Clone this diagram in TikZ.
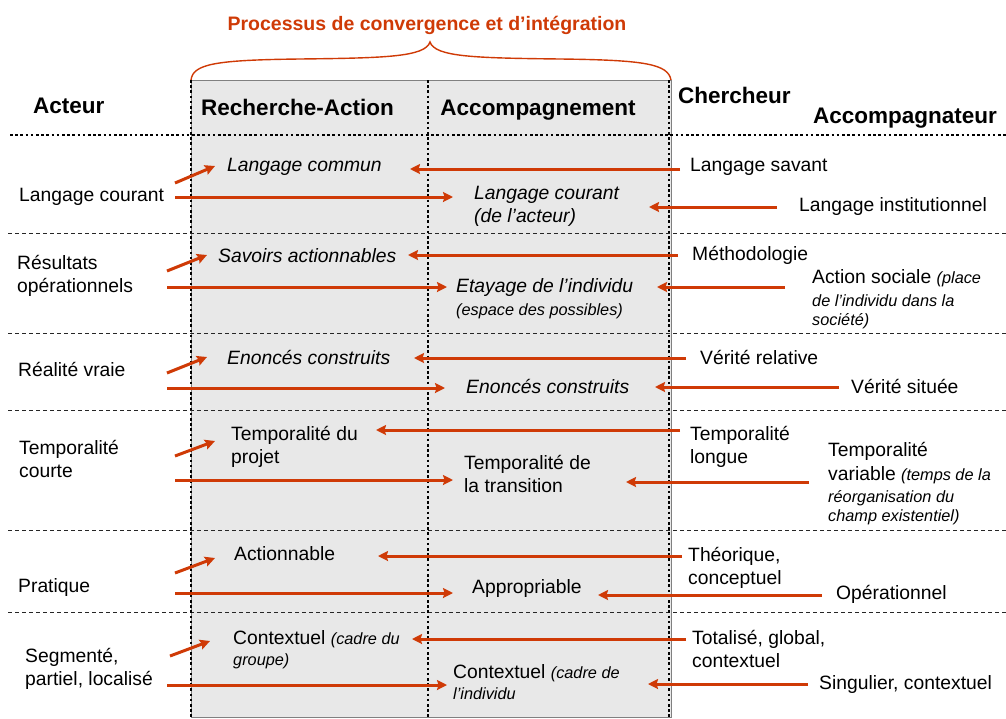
\documentclass[tikz,border=0pt]{standalone}
\usepackage{fontspec}
\setmainfont{Liberation Sans}
\usetikzlibrary{arrows.meta}
\definecolor{acc}{RGB}{207,58,6}
\definecolor{boxgray}{RGB}{232,232,232}
\newcommand\smit[1]{{\fontsize{16.3}{19.5}\selectfont\itshape #1}}
\begin{document}
\begin{tikzpicture}[x=1pt,y=-1pt,
  txt/.style={anchor=base west, inner sep=0pt, align=left, font=\fontsize{19.3}{23.5}\selectfont},
  itx/.style={anchor=base west, inner sep=0pt, align=left, font=\fontsize{19.3}{23.5}\selectfont\itshape},
  hdr/.style={anchor=base west, inner sep=0pt, font=\fontsize{22.5}{26}\selectfont\bfseries},
  arr/.style={draw=acc, line width=3pt, -{Stealth[length=10pt,width=10pt,inset=1.5pt]}},
  dots/.style={line width=2.6pt, dash pattern=on 2.6pt off 2.6pt},
  sep/.style={line width=0.9pt, dash pattern=on 4pt off 3pt, draw=black!85},
]
\useasboundingbox (0,0) rectangle (1006,718);
% box
\fill[boxgray] (191,80) rectangle (671,718);
\draw[gray, line width=0.8pt] (191,80) -- (671,80) -- (671,717) -- (191,717) -- cycle;
% brace
\draw[acc, line width=1.4pt] (191,80) .. controls (193,64) and (215,60) .. (300,59)
  .. controls (385,58) and (425,57) .. (430,42)
  .. controls (435,57) and (475,58) .. (560,59)
  .. controls (645,60) and (668,64) .. (671,80);
\node[anchor=base, inner sep=0pt, font=\fontsize{19.5}{22}\selectfont\bfseries, text=acc] (title) at (427,30) {Processus de convergence et d’intégration};
% separators
\foreach \yy in {233,333,410,530,612} \draw[sep] (8,\yy) -- (1006,\yy);
\draw[dots] (10,135) -- (1006,135);
\draw[dots] (191,80) -- (191,718);
\draw[dots] (428,80) -- (428,718);
\draw[dots] (669,80) -- (669,718);
% headers
\node[hdr] (acteur) at (33,113) {Acteur};
\node[hdr, anchor=base] (ra) at (297.5,115) {Recherche-Action};
\node[hdr, anchor=base] (acc) at (538,115) {Accompagnement};
\node[hdr] (cherch) at (678,103) {Chercheur};
\node[hdr] (accomp) at (813,123) {Accompagnateur};
% left column
\node[txt] (lc) at (19,201.5) {Langage courant};
\node[txt] (ro) at (17,292.5) {Résultats\\opérationnels};
\node[txt] (rv) at (18,376.5) {Réalité vraie};
\node[txt] (tc) at (19,477.5) {Temporalité\\courte};
\node[txt] (pr) at (18,592.5) {Pratique};
\node[txt] (sp) at (25,685.5) {Segmenté,\\partiel, localisé};
% middle column 1
\node[itx] (lcm) at (227,171.5) {Langage commun};
\node[itx] (sa) at (218,262.5) {Savoirs actionnables};
\node[itx] (ec1) at (227,364.5) {Enoncés construits};
\node[txt] (tp) at (231,463.5) {Temporalité du\\projet};
\node[txt] (ac) at (234,560.5) {Actionnable};
\node[txt] (cg) at (233,665.5) {Contextuel \smit{(cadre du}\\[-2.5pt]\smit{groupe)}};
% middle column 2
\node[itx] (lca) at (474,222.5) {Langage courant\\(de l’acteur)};
\node[itx] (ei) at (456,315.5) {Etayage de l’individu\\\smit{(espace des possibles)}};
\node[itx] (ec2) at (466,393.5) {Enoncés construits};
\node[txt] (tt) at (464,492.5) {Temporalité de\\la transition};
\node[txt] (ap) at (472,593.5) {Appropriable};
\node[txt] (ci) at (453,699.5) {Contextuel \smit{(cadre de}\\[-2.5pt]\smit{l’individu}};
% right column 1
\node[txt] (ls) at (690,171.5) {Langage savant};
\node[txt] (me) at (692,260.5) {Méthodologie};
\node[txt] (vr) at (700,364.5) {Vérité relative};
\node[txt] (tl) at (690,463.5) {Temporalité\\longue};
\node[txt] (th) at (688,584.5) {Théorique,\\conceptuel};
\node[txt] (tg) at (692,667.5) {Totalisé, global,\\contextuel};
% right column 2
\node[txt] (li) at (799,211.5) {Langage institutionnel};
\node[txt] (as) at (812,325.5) {Action sociale \smit{(place}\\\smit{de l’individu dans la}\\[-4.5pt]\smit{société)}};
\node[txt] (vs) at (851,393.5) {Vérité située};
\node[txt] (tv) at (828,521.5) {Temporalité\\variable \smit{(temps de la}\\[-1.5pt]\smit{réorganisation du}\\[-4pt]\smit{champ existentiel)}};
\node[txt] (op) at (836,599.5) {Opérationnel};
\node[txt] (sc) at (819,689.5) {Singulier, contextuel};
% arrow end points
\foreach \n/\x/\y in {
  d1s/175/183, d1e/215/166, d2s/167/271, d2e/207/255, d3s/167/373, d3e/207/357,
  d4s/175/456, d4e/215/441, d5s/175/573, d5e/215/558, d6s/170/656, d6e/210/641,
  h1s/175/197, h1e/453/197, h2s/167/287, h2e/447/287, h3s/167/388, h3e/445/388,
  h4s/175/480, h4e/453/480, h5s/175/593, h5e/453/593, h6s/167/685, h6e/447/685,
  r1s/680/169, r1e/410/169, r2s/678/255, r2e/408/255, r3s/686/358, r3e/414/358,
  r4s/680/430, r4e/376/430, r5s/682/556, r5e/378/556, r6s/686/639, r6e/412/639,
  f1s/777/207, f1e/649/207, f2s/785/287, f2e/657/287, f3s/839/387, f3e/655/387,
  f4s/809/482, f4e/626/482, f5s/822/595, f5e/598/595, f6s/808/684, f6e/648/684}
  \coordinate (\n) at (\x,\y);
\foreach \k in {d1,d2,d3,d4,d5,d6,h1,h2,h3,h4,h5,h6,r1,r2,r3,r4,r5,r6,f1,f2,f3,f4,f5,f6}
  \draw[arr] (\k s) -- (\k e);
\end{tikzpicture}
\end{document}
